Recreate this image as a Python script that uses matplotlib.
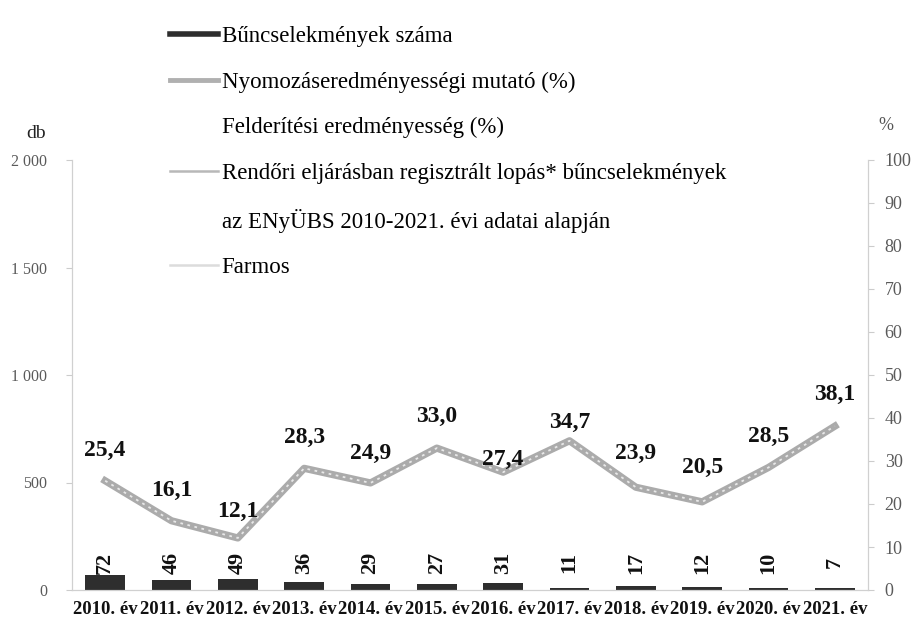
import matplotlib.pyplot as plt
from matplotlib.lines import Line2D

plt.rcParams['font.family'] = ['Liberation Serif', 'DejaVu Serif']

# --- DATA ---
years = ["2010. év", "2011. év", "2012. év", "2013. év", "2014. év", "2015. év",
         "2016. év", "2017. év", "2018. év", "2019. év", "2020. év", "2021. év"]
crimes = [72, 46, 49, 36, 29, 27, 31, 11, 17, 12, 10, 7]
clearance = [25.4, 16.1, 12.1, 28.3, 24.9, 33.0, 27.4, 34.7, 23.9, 20.5, 28.5, 38.1]

legend_labels = ["Bűncselekmények száma",
                 "Nyomozáseredményességi mutató (%)",
                 "Felderítési eredményesség (%)",
                 "Rendőri eljárásban regisztrált lopás* bűncselekmények",
                 "az ENyÜBS 2010-2021. évi adatai alapján",
                 "Farmos"]

# label offsets (points above the line)
label_dy = [22, 22, 19, 22, 21, 23, 9, 13, 24, 25, 22, 23]

W, H = 912, 618
fig = plt.figure(figsize=(W / 100, H / 100), dpi=100)
ax = fig.add_axes([72 / W, 1 - 590 / H, (868 - 72) / W, (590 - 160) / H])
ax2 = ax.twinx()

x = list(range(len(years)))

## BARS
ax.bar(x, crimes, width=0.6, color="#2e2e2e", zorder=2)
for i, v in enumerate(crimes):
    ax.text(i, 128, str(v), rotation=90, ha="center", va="center",
            fontsize=16, fontweight="bold", color="#111111", zorder=5)

ax.set_xlim(-0.5, len(years) - 0.5)
ax.set_ylim(0, 2000)
ax.set_yticks([0, 500, 1000, 1500, 2000])
ax.set_yticklabels(["0", "500", "1 000", "1 500", "2 000"])
ax.set_xticks(x)
ax.set_xticklabels(years, fontweight="bold", fontsize=13.5)

## LINE
ax2.plot(x, clearance, color="#ababab", lw=5.2, solid_joinstyle="round", zorder=3)
ax2.plot(x, clearance, color="#e8e8e8", lw=1.3, ls=(0, (1.5, 2.5)), zorder=4)
for i, v in enumerate(clearance):
    ax2.annotate(f"{v:.1f}".replace(".", ","), (i, v), xytext=(0, label_dy[i]),
                 textcoords="offset points", ha="center", va="center",
                 fontsize=17, fontweight="bold", color="#111111", zorder=6)
ax2.set_ylim(0, 100)
ax2.set_yticks(range(0, 101, 10))

# axes styling
for a in (ax, ax2):
    for s in a.spines.values():
        s.set_color("#d0d0d0")
        s.set_linewidth(0.8)
    a.spines["top"].set_visible(False)
ax.tick_params(axis="y", colors="#cccccc", labelcolor="#5a5a5a", labelsize=11.5,
               length=4, pad=14)
ax2.tick_params(axis="y", colors="#cccccc", labelcolor="#5a5a5a", labelsize=13,
                length=4, pad=8)
ax.tick_params(axis="x", length=0, pad=8, labelcolor="#111111")
ax.patch.set_visible(False)

fig.text(36 / W, 1 - 133 / H, "db", fontsize=14, ha="center", va="center", color="#222222")
fig.text(886 / W, 1 - 126 / H, "%", fontsize=13, ha="center", va="center", color="#555555")

## LEGEND
handles = [Line2D([], [], color="#2e2e2e", lw=4),
           Line2D([], [], color="#b0b0b0", lw=3.5),
           Line2D([], [], color="none"),
           Line2D([], [], color="#b8b8b8", lw=1.8),
           Line2D([], [], color="none"),
           Line2D([], [], color="#dcdcdc", lw=1.8)]
leg = fig.legend(handles, legend_labels, loc="upper left",
                 bbox_to_anchor=(170 / W, 1 - 26 / H), frameon=False,
                 fontsize=16.5, labelspacing=1.07, handlelength=2.1,
                 handletextpad=0.15, borderpad=0, borderaxespad=0)

fig.savefig("out.png", dpi=100, facecolor="white")
